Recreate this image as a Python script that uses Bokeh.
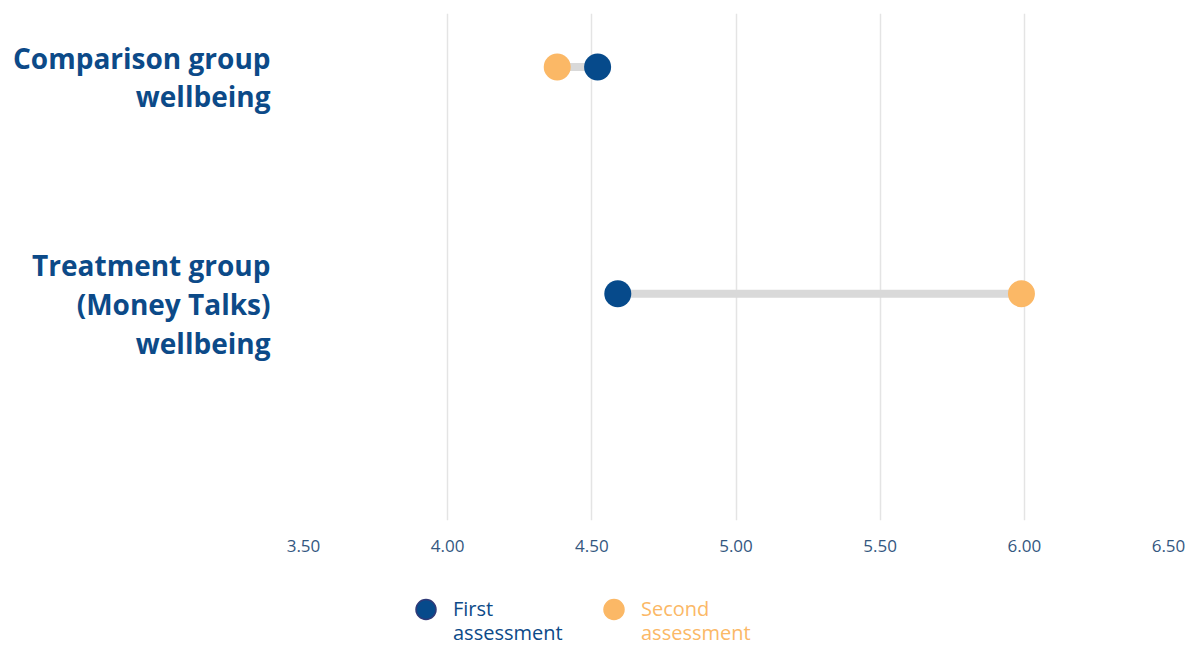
from bokeh.plotting import figure
from bokeh.layouts import column
from bokeh.models import FixedTicker, ColumnDataSource
from bokeh.core.properties import value
from bokeh.embed import file_html
from bokeh.resources import INLINE

# Wellbeing scores per group, first and second assessment
groups = ["Comparison group\nwellbeing", "Treatment group\n(Money Talks)\nwellbeing"]
first_assessment = [4.52, 4.59]
second_assessment = [4.38, 5.99]

tick_values = [3.5, 4.0, 4.5, 5.0, 5.5, 6.0, 6.5]
tick_labels = ["3.50", "4.00", "4.50", "5.00", "5.50", "6.00", "6.50"]

legend_labels = ["First\nassessment", "Second\nassessment"]

BLUE = "#064a8b"
ORANGE = "#fbb866"
LABEL_BLUE = "#0c4a88"
TICK_BLUE = "#34577f"
CONNECTOR = "#d9d9d9"
GRID = "#e4e4e4"
FONT = "Open Sans"

# groups listed top to bottom
ypos = [len(groups) - i for i in range(len(groups))]
Y_TOP = 2.236

p = figure(width=1187, height=580, x_range=(3.5, 6.5), y_range=(0, Y_TOP),
           output_backend="svg", toolbar_location=None,
           min_border_left=303, min_border_right=19,
           min_border_top=13, min_border_bottom=60)
p.outline_line_color = None
p.background_fill_color = "white"
p.border_fill_color = "white"

p.xaxis.ticker = FixedTicker(ticks=tick_values)
p.xaxis.major_label_overrides = {v: s for v, s in zip(tick_values, tick_labels)}
p.xaxis.axis_line_color = None
p.xaxis.major_tick_line_color = None
p.xaxis.minor_tick_line_color = None
p.xaxis.major_label_standoff = 13
p.xaxis.major_label_text_font = FONT
p.xaxis.major_label_text_font_size = "17px"
p.xaxis.major_label_text_color = TICK_BLUE
p.xgrid.ticker = FixedTicker(ticks=tick_values)
p.xgrid.grid_line_color = GRID
p.xgrid.grid_line_width = 1.5

# group names as multi-line y tick labels, block sitting slightly below its row
label_shift = 10 / 226.7
label_ticks = [y - label_shift for y in ypos]
p.yaxis.ticker = FixedTicker(ticks=label_ticks)
p.yaxis.major_label_overrides = {t: g for t, g in zip(label_ticks, groups)}
p.yaxis.axis_line_color = None
p.yaxis.major_tick_line_color = None
p.yaxis.minor_tick_line_color = None
p.yaxis.major_tick_out = 0
p.yaxis.major_label_standoff = 33
p.yaxis.major_label_text_font = FONT
p.yaxis.major_label_text_font_style = "bold"
p.yaxis.major_label_text_font_size = "28px"
p.yaxis.major_label_text_color = LABEL_BLUE
p.yaxis.major_label_text_line_height = 1.02
p.ygrid.grid_line_color = None

src = ColumnDataSource(dict(y=ypos, first=first_assessment, second=second_assessment))
p.segment(x0="first", x1="second", y0="y", y1="y", source=src,
          line_width=8, line_color=CONNECTOR)
p.scatter(x="second", y="y", source=src, size=27, fill_color=ORANGE, line_color=None)
p.scatter(x="first", y="y", source=src, size=27, fill_color=BLUE, line_color=None)

# legend strip underneath the chart, in page-pixel coordinates
leg = figure(width=1187, height=66, x_range=(303.5, 1168.5), y_range=(0, 66),
             output_backend="svg", toolbar_location=None,
             min_border_left=303, min_border_right=19,
             min_border_top=0, min_border_bottom=0)
leg.axis.visible = False
leg.grid.grid_line_color = None
leg.outline_line_color = None

marker_x = [426, 614]
marker_fill = [BLUE, ORANGE]
marker_line = ["#2f3a78", ORANGE]
text_colors = [LABEL_BLUE, ORANGE]
leg.scatter(x=marker_x, y=[37, 37], size=20, fill_color=marker_fill,
            line_color=marker_line, line_width=1.5)

lx, ly, lt, lc = [], [], [], []
for mx, text, color in zip(marker_x, legend_labels, text_colors):
    for k, line in enumerate(text.split("\n")):
        lx.append(mx + 27)
        ly.append(38 - k * 24)
        lt.append(line)
        lc.append(color)
leg.text(x=lx, y=ly, text=lt, text_color=lc, text_align="left",
         text_baseline="alphabetic", text_font=value(FONT), text_font_size="20px")

layout = column(p, leg, spacing=0)
open("out.html", "w").write(file_html(layout, INLINE))
